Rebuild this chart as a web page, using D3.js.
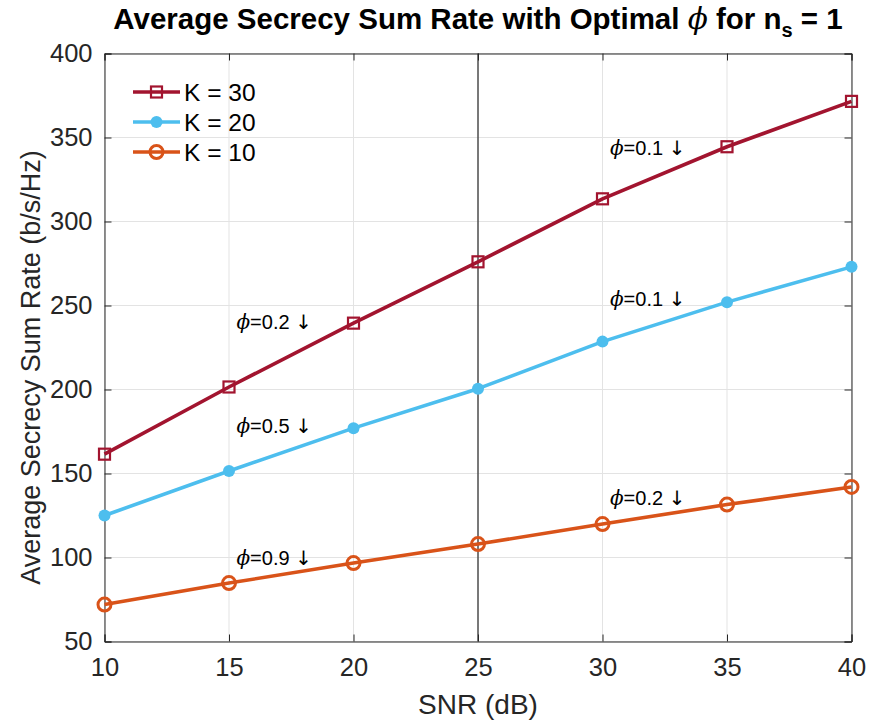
<!DOCTYPE html>
<html>
<head>
<meta charset="utf-8">
<script src="https://cdn.jsdelivr.net/npm/d3@7"></script>
<style>
  body { margin: 0; background: #fff; }
  text { font-family: "Liberation Sans", Arial, Helvetica, sans-serif; }
</style>
</head>
<body>
<svg id="chart" width="869" height="724"></svg>
<script>
// SNR values on the x axis
const snr = [10, 15, 20, 25, 30, 35, 40];
// Average secrecy sum rate for each user count
const rateK30 = [161.5, 201.5, 239.5, 276, 313.5, 344.5, 371.5];
const rateK20 = [125, 151.5, 177, 200.5, 228.5, 252, 273];
const rateK10 = [72, 84.8, 96.7, 108, 119.9, 131.5, 142];
const seriesNames = ["K = 30", "K = 20", "K = 10"];
const xTicks = [10, 15, 20, 25, 30, 35, 40];
const yTicks = [50, 100, 150, 200, 250, 300, 350, 400];
// phi annotations: [snr, rate, value]
const phiNotes = [
  [15.3, 240, "0.2"],
  [15.3, 178, "0.5"],
  [15.3, 100, "0.9"],
  [30.3, 344, "0.1"],
  [30.3, 254, "0.1"],
  [30.3, 135.5, "0.2"]
];

const svg = d3.select("#chart");
const m = { left: 104.5, right: 851.5, top: 53.5, bottom: 641.5 };
const x = d3.scaleLinear().domain([10, 40]).range([m.left, m.right]);
const y = d3.scaleLinear().domain([50, 400]).range([m.bottom, m.top]);
const axisColor = "#262626";

// grid
const grid = svg.append("g");
grid.selectAll(".gx").data(xTicks).join("line")
  .attr("x1", d => x(d)).attr("x2", d => x(d))
  .attr("y1", m.top).attr("y2", m.bottom)
  .attr("stroke", "#e3e3e3").attr("stroke-width", 1);
grid.selectAll(".gy").data(yTicks).join("line")
  .attr("x1", m.left).attr("x2", m.right)
  .attr("y1", d => y(d)).attr("y2", d => y(d))
  .attr("stroke", "#e3e3e3").attr("stroke-width", 1);

// vertical reference line at 25 dB
svg.append("line")
  .attr("x1", x(25)).attr("x2", x(25))
  .attr("y1", m.top).attr("y2", m.bottom)
  .attr("stroke", "#000").attr("stroke-width", 1);

// axes with inward ticks
const xAxis = svg.append("g").attr("transform", `translate(0,${m.bottom})`)
  .call(d3.axisBottom(x).tickValues(xTicks).tickSize(-7).tickPadding(16).tickFormat(d3.format("d")));
const xAxisTop = svg.append("g").attr("transform", `translate(0,${m.top})`)
  .call(d3.axisTop(x).tickValues(xTicks).tickSize(-7).tickFormat(""));
const yAxis = svg.append("g").attr("transform", `translate(${m.left},0)`)
  .call(d3.axisLeft(y).tickValues(yTicks).tickSize(-7).tickPadding(12).tickFormat(d3.format("d")));
const yAxisR = svg.append("g").attr("transform", `translate(${m.right},0)`)
  .call(d3.axisRight(y).tickValues(yTicks).tickSize(-7).tickFormat(""));
[xAxis, xAxisTop, yAxis, yAxisR].forEach(a => {
  a.select(".domain").attr("stroke", axisColor).attr("stroke-width", 1);
  a.selectAll(".tick line").attr("stroke", axisColor);
  a.selectAll(".tick text").attr("fill", axisColor).style("font-size", "25.5px")
    .style("font-family", '"Liberation Sans", Arial, sans-serif');
});

// series
const series = [
  { name: seriesNames[0], vals: rateK30, color: "#A2142F", marker: "square" },
  { name: seriesNames[1], vals: rateK20, color: "#4DBEEE", marker: "dot" },
  { name: seriesNames[2], vals: rateK10, color: "#D95319", marker: "circle" }
];
const line = d3.line().x(d => x(d[0])).y(d => y(d[1]));

function drawMarker(g, kind, color, cx, cy) {
  if (kind === "square") {
    g.append("rect").attr("x", cx - 5.5).attr("y", cy - 5.5).attr("width", 11).attr("height", 11)
      .attr("fill", "none").attr("stroke", color).attr("stroke-width", 2.2);
  } else if (kind === "dot") {
    g.append("circle").attr("cx", cx).attr("cy", cy).attr("r", 6).attr("fill", color);
  } else {
    g.append("circle").attr("cx", cx).attr("cy", cy).attr("r", 6.5)
      .attr("fill", "none").attr("stroke", color).attr("stroke-width", 3);
  }
}

series.forEach(s => {
  const pts = snr.map((v, i) => [v, s.vals[i]]);
  svg.append("path").datum(pts).attr("d", line)
    .attr("fill", "none").attr("stroke", s.color).attr("stroke-width", 3.6)
    .attr("stroke-linejoin", "round");
  const mg = svg.append("g");
  pts.forEach(p => drawMarker(mg, s.marker, s.color, x(p[0]), y(p[1])));
});

// phi annotations
phiNotes.forEach(n => {
  const t = svg.append("text").attr("x", x(n[0])).attr("y", y(n[1]) + 7)
    .style("font-size", "20px").attr("fill", "#000");
  t.append("tspan").text("ϕ").style("font-style", "italic").style("font-family", '"DejaVu Serif", serif');
  t.append("tspan").text("=" + n[2] + " ");
  t.append("tspan").text("↓").attr("fill", "#000").style("font-family", '"DejaVu Sans", sans-serif');
});

// legend
const lg = svg.append("g");
series.forEach((s, i) => {
  const ly = 92 + i * 30;
  lg.append("line").attr("x1", 133).attr("x2", 180).attr("y1", ly).attr("y2", ly)
    .attr("stroke", s.color).attr("stroke-width", 3.6);
  drawMarker(lg, s.marker, s.color, 156.5, ly);
  lg.append("text").attr("x", 184).attr("y", ly + 9).text(s.name)
    .style("font-size", "24.5px").attr("fill", "#000");
});

// title
const title = svg.append("text").attr("x", x(25)).attr("y", 29).attr("text-anchor", "middle")
  .style("font-size", "29.5px").style("font-weight", "bold").attr("fill", "#000");
title.append("tspan").text("Average Secrecy Sum Rate with Optimal ");
title.append("tspan").text("ϕ").style("font-style", "italic").style("font-weight", "normal")
  .style("font-family", '"DejaVu Serif", serif');
title.append("tspan").text(" for n");
title.append("tspan").text("s").attr("dy", 8).style("font-size", "20px");
title.append("tspan").text(" = 1").attr("dy", -8);

// axis labels
svg.append("text").attr("x", x(25)).attr("y", 714).attr("text-anchor", "middle")
  .style("font-size", "28px").attr("fill", axisColor).text("SNR (dB)");
svg.append("text").attr("transform", `translate(40,${(m.top + m.bottom) / 2 + 20}) rotate(-90)`)
  .attr("text-anchor", "middle").style("font-size", "27px").attr("fill", axisColor)
  .text("Average Secrecy Sum Rate (b/s/Hz)");
</script>
</body>
</html>
